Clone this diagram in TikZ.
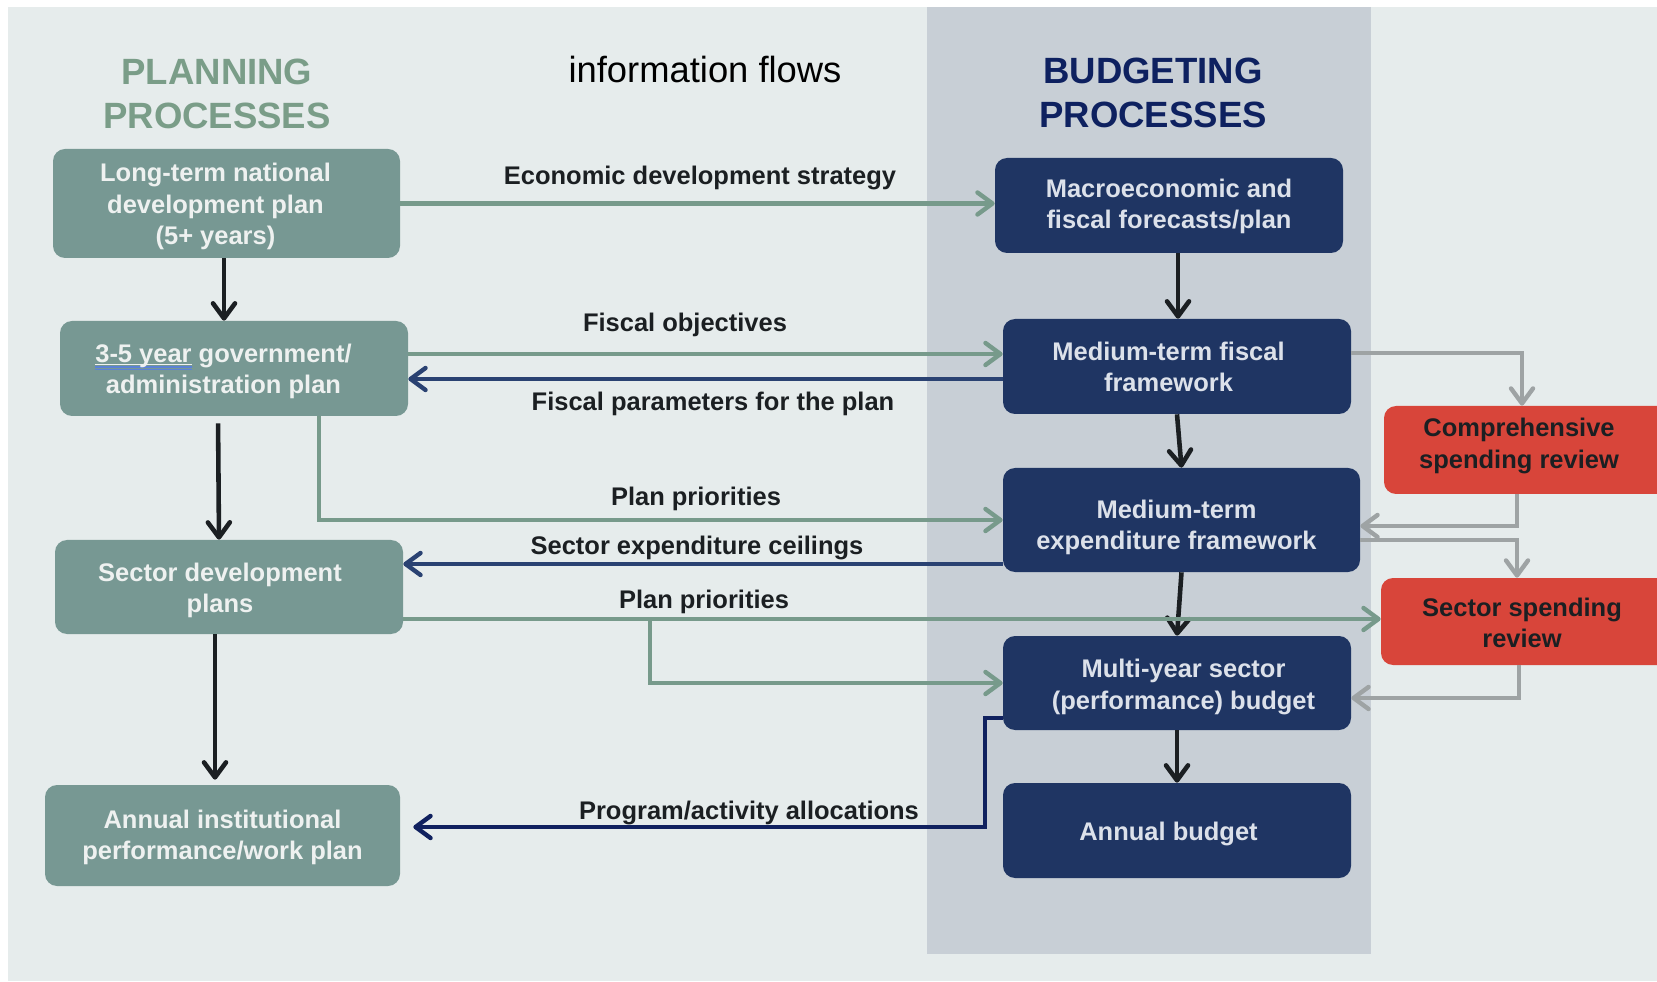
\documentclass[tikz,border=0pt]{standalone}
\usepackage{fontspec}
\setmainfont{Liberation Sans}
\usetikzlibrary{positioning,arrows.meta}
\definecolor{bg}{HTML}{E6ECEC}
\definecolor{band}{HTML}{C8CFD6}
\definecolor{sage}{HTML}{779893}
\definecolor{navy}{HTML}{1F3563}
\definecolor{brick}{HTML}{D8453A}
\definecolor{sagetitle}{HTML}{7A9D88}
\definecolor{navytitle}{HTML}{0E2160}
\definecolor{sageline}{HTML}{779A8B}
\definecolor{navyline}{HTML}{2A4272}
\definecolor{deepline}{HTML}{10215F}
\definecolor{greyline}{HTML}{9EA3A4}
\definecolor{ink}{HTML}{1B1F22}
\definecolor{boxtext}{HTML}{EEF1F0}
\definecolor{navytext}{HTML}{DCE1EA}
\definecolor{spellblue}{HTML}{5B82D6}
\newcommand{\boxfont}{\fontsize{14.5}{17.7}\selectfont\bfseries}
\newcommand{\headfont}{\fontsize{20.8}{25}\selectfont\bfseries}
% underline plus the double blue squiggle under a flagged word
\newlength{\markwd}
\newcommand{\flagged}[1]{\settowidth{\markwd}{#1}%
  \rlap{\rule[-0.1em]{\markwd}{0.06em}}%
  \rlap{\color{spellblue}\rule[-0.2em]{\markwd}{0.05em}}%
  \rlap{\color{spellblue}\rule[-0.3em]{\markwd}{0.05em}}#1}

\begin{document}
\begin{tikzpicture}[x=1cm,y=1cm,
  planbox/.style={fill=sage,rounded corners=0.24cm},
  budgetbox/.style={fill=navy,rounded corners=0.24cm},
  reviewbox/.style={fill=brick,rounded corners=0.24cm},
  plantext/.style={text=boxtext,align=center,font=\boxfont},
  budgettext/.style={text=navytext,align=center,font=\boxfont},
  reviewtext/.style={text=ink,align=center,font=\boxfont},
  flowlabel/.style={text=ink,font=\boxfont},
  tip/.style={-{Straight Barb[length=0.3cm,width=0.44cm,round]}},
  stepdown/.style={tip,ink,line width=2.6pt},
  flowsage/.style={tip,sageline,line width=2.5pt},
  flownavy/.style={tip,navyline,line width=2.5pt},
  flowdeep/.style={tip,deepline,line width=2.5pt},
  flowgrey/.style={tip,greyline,line width=2.5pt}]
\useasboundingbox (0,0) rectangle (33.14,19.62);
\fill[white] (0,0) rectangle (33.14,19.62);
\fill[bg] (0.16,0) rectangle (33.14,19.48);
\fill[band] (18.54,0.54) rectangle (27.42,19.48);

% headings
\node[text=sagetitle,font=\headfont,align=center] (plantitle) at (4.34,17.74) {PLANNING\\PROCESSES};
\node[text=navytitle,font=\headfont,align=center] (budgettitle) at (23.06,17.77) {BUDGETING\\PROCESSES};
\node[text=black,font=\fontsize{20.7}{25}\selectfont] (flowtitle) at (14.10,18.22) {information flows};

% planning column
\node[planbox,minimum width=6.94cm,minimum height=2.18cm] (ltplan) at (4.53,15.55) {};
\node[plantext] (lttext) at ([shift={(-0.22,-0.06)}]ltplan.center) {Long-term national\\development plan\\(5+ years)};
\node[planbox,minimum width=6.96cm,minimum height=1.90cm] (govplan) at (4.68,12.25) {};
\node[plantext] (govtext) at ([shift={(-0.21,-0.06)}]govplan.center) {\flagged{3-5 year} government/\\administration plan};
\node[planbox,minimum width=6.96cm,minimum height=1.88cm] (sectplan) at (4.58,7.88) {};
\node[plantext] (secttext) at ([shift={(-0.18,-0.06)}]sectplan.center) {Sector development\\plans};
\node[planbox,minimum width=7.10cm,minimum height=2.02cm] (annplan) at (4.45,2.91) {};
\node[plantext] (anntext) at ([shift={(0,-0.04)}]annplan.center) {Annual institutional\\performance/work plan};

% budgeting column
\node[budgetbox,minimum width=6.96cm,minimum height=1.90cm] (macro) at (23.38,15.51) {};
\node[budgettext] (macrotext) at ([shift={(0,-0.02)}]macro.center) {Macroeconomic and\\fiscal forecasts/plan};
\node[budgetbox,minimum width=6.96cm,minimum height=1.90cm] (mtff) at (23.54,12.29) {};
\node[budgettext] (mtfftext) at ([shift={(-0.17,0)}]mtff.center) {Medium-term fiscal\\framework};
\node[budgetbox,minimum width=7.14cm,minimum height=2.08cm] (mtef) at (23.63,9.22) {};
\node[budgettext] (mteftext) at ([shift={(-0.10,-0.14)}]mtef.center) {Medium-term\\expenditure framework};
\node[budgetbox,minimum width=6.96cm,minimum height=1.88cm] (myb) at (23.54,5.96) {};
\node[budgettext] (mybtext) at ([shift={(0.13,-0.08)}]myb.center) {Multi-year sector\\(performance) budget};
\node[budgetbox,minimum width=6.96cm,minimum height=1.90cm] (annbudget) at (23.54,3.01) {};
\node[budgettext] (abtext) at ([shift={(-0.17,-0.06)}]annbudget.center) {Annual budget};

% spending reviews, cut by the right edge
\node[reviewbox,minimum width=5.9cm,minimum height=1.76cm] (csr) at (30.63,10.62) {};
\node[reviewtext] (csrtext) at (30.38,10.70) {Comprehensive\\spending review};
\node[reviewbox,minimum width=5.96cm,minimum height=1.74cm] (ssr) at (30.60,7.19) {};
\node[reviewtext] (ssrtext) at (30.44,7.16) {Sector spending\\review};

% down the columns
\draw[stepdown] (ltplan.south -| 4.48,0) -- (govplan.north -| 4.48,0);
\draw[stepdown,shorten <=0.14cm] (govplan.south -| 4.36,0) -- (sectplan.north -| 4.38,0);
\draw[stepdown,shorten >=0.1cm] (sectplan.south -| 4.30,0) -- (annplan.north -| 4.30,0);
\draw[stepdown] (macro.south -| 23.56,0) -- (mtff.north -| 23.56,0);
\draw[stepdown] (mtff.south) -- (mtef.north);
\draw[stepdown] (mtef.south) -- (myb.north);
\draw[stepdown] (myb.south) -- (annbudget.north);

% flows between planning and budgeting
\draw[flowsage] (ltplan.east) -- (ltplan.east -| macro.west);
\node[flowlabel] (econlbl) at (14.0,16.06) {Economic development strategy};
\draw[flowsage] (govplan.east |- 0,12.54) -- (mtff.west |- 0,12.54);
\node[flowlabel] (objlbl) at (13.70,13.12) {Fiscal objectives};
\draw[flownavy] (mtff.west |- 0,12.04) -- (govplan.east |- 0,12.04);
\node[flowlabel] (parlbl) at (14.26,11.54) {Fiscal parameters for the plan};
\draw[flowsage] (govplan.south -| 6.38,0) |- (mtef.west);
\node[flowlabel] (pri1lbl) at (13.92,9.64) {Plan priorities};
\draw[flownavy] (mtef.west |- 0,8.34) -- (sectplan.east |- 0,8.34);
\node[flowlabel] (ceillbl) at (13.94,8.66) {Sector expenditure ceilings};
\draw[flowsage] (sectplan.east |- 0,7.24) -- (ssr.west |- 0,7.24);
\coordinate (pri2split) at (13.0,7.24);
\draw[flowsage] (pri2split) |- (myb.west);
\node[flowlabel] (pri2lbl) at (14.08,7.58) {Plan priorities};
\draw[flowdeep,shorten >=0.26cm] (myb.west |- 0,5.26) -| (19.7,3.08) -- (annplan.east |- 0,3.08);
\node[flowlabel] (alloclbl) at (14.98,3.36) {Program/activity allocations};

% spending review loops
\draw[flowgrey] (mtff.east |- 0,12.56) -| (csr.north -| 30.44,0);
\draw[flowgrey] (csr.south -| 30.34,0) |- (mtef.east |- 0,9.10);
\draw[flowgrey] (mtef.east |- 0,8.82) -| (ssr.north -| 30.34,0);
\draw[flowgrey] (ssr.south -| 30.38,0) |- (myb.east |- 0,5.66);
\end{tikzpicture}
\end{document}
